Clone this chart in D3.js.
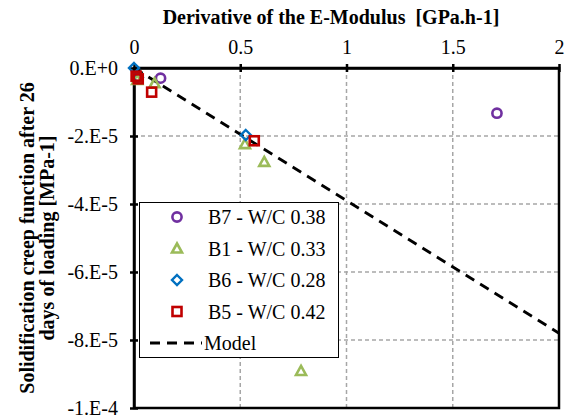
<!DOCTYPE html>
<html><head><meta charset="utf-8">
<script src="https://cdn.jsdelivr.net/npm/d3@7"></script>
<style>body{margin:0;background:#fff}svg{display:block}</style>
</head><body>
<script>
// Data
const xTicks = [0, 0.5, 1, 1.5, 2];
const xTickLabels = ["0", "0.5", "1", "1.5", "2"];
const yTicks = [0, -2e-5, -4e-5, -6e-5, -8e-5, -1e-4];
const yTickLabels = ["0.E+0", "-2.E-5", "-4.E-5", "-6.E-5", "-8.E-5", "-1.E-4"];
const seriesNames = ["B7 - W/C 0.38", "B1 - W/C 0.33", "B6 - W/C 0.28", "B5 - W/C 0.42"];
const b7 = [[0.125, -3.0e-6], [1.708, -13.3e-6]];
const b1 = [[0.015, -3.5e-6], [0.097, -4.5e-6], [0.522, -22.4e-6], [0.613, -27.6e-6], [0.786, -89.1e-6]];
const b6 = [[0, 0], [0.018, -2.8e-6], [0.526, -19.7e-6]];
const b5 = [[0.01, -2.4e-6], [0.02, -3.2e-6], [0.083, -7.1e-6], [0.566, -21.4e-6]];
const modelX = [0, 2];
const modelSlope = -3.9e-5;
const xTitle = "Derivative of the E-Modulus\u00a0\u00a0[GPa.h-1]";
const yTitle = ["Solidification creep function after 26", "days of loading [MPa-1]"];
const modelName = "Model";

const W = 569, H = 419;
const m = {left: 134, right: 559, top: 68, bottom: 408};
const font = "'Liberation Serif', 'Times New Roman', serif";
const svg = d3.select("body").append("svg").attr("width", W).attr("height", H)
  .style("font-family", font);

const x = d3.scaleLinear().domain([0, 2]).range([m.left, m.right]);
const y = d3.scaleLinear().domain([-1e-4, 0]).range([m.bottom, m.top]);

// grid
const grid = svg.append("g").attr("stroke", "#A6A6A6").attr("stroke-width", 1.5).attr("stroke-dasharray", "4,3");
grid.selectAll("line.v").data(xTicks.slice(1, -1)).enter().append("line")
  .attr("x1", d => x(d)).attr("x2", d => x(d)).attr("y1", m.top).attr("y2", m.bottom);
grid.selectAll("line.h").data(yTicks.slice(1, -1)).enter().append("line")
  .attr("y1", d => y(d)).attr("y2", d => y(d)).attr("x1", m.left).attr("x2", m.right);

// model line
svg.append("line")
  .attr("x1", x(modelX[0])).attr("y1", y(modelX[0] * modelSlope))
  .attr("x2", x(modelX[1])).attr("y2", y(modelX[1] * modelSlope))
  .attr("stroke", "#000").attr("stroke-width", 2.8).attr("stroke-dasharray", "10,7");

// frame
svg.append("rect").attr("x", m.left).attr("y", m.top).attr("width", m.right - m.left).attr("height", m.bottom - m.top)
  .attr("fill", "none").attr("stroke", "#000").attr("stroke-width", 2.5);

// axes
const xAxis = d3.axisTop(x).tickValues(xTicks).tickFormat((d, i) => xTickLabels[i]).tickSizeInner(4).tickSizeOuter(0).tickPadding(10);
const gx = svg.append("g").attr("transform", `translate(0,${m.top})`).call(xAxis);
gx.select(".domain").attr("stroke-width", 2.5);
gx.selectAll(".tick line").attr("stroke-width", 2.5).attr("y2", 4).attr("y1", -4);
gx.selectAll(".tick text").attr("font-size", 20).attr("font-family", font).attr("fill", "#000").attr("y", -14);

const yAxis = d3.axisLeft(y).tickValues(yTicks).tickFormat((d, i) => yTickLabels[i]).tickSizeInner(4).tickSizeOuter(0).tickPadding(14);
const gy = svg.append("g").attr("transform", `translate(${m.left},0)`).call(yAxis);
gy.select(".domain").attr("stroke-width", 2.5);
gy.selectAll(".tick line").attr("stroke-width", 2.5).attr("x1", 4).attr("x2", -4);
gy.selectAll(".tick text").attr("font-size", 20).attr("font-family", font).attr("fill", "#000").attr("x", -16);

// titles
svg.append("text").attr("x", 331).attr("y", 24).attr("text-anchor", "middle")
  .attr("font-size", 20).attr("font-weight", "bold").text(xTitle);
yTitle.forEach((t, i) => {
  svg.append("text").attr("transform", `translate(${34 + i * 20},238) rotate(-90)`)
    .attr("text-anchor", "middle").attr("font-size", 20).attr("font-weight", "bold").text(t);
});

// markers
const styles = [
  {color: "#7030A0", shape: "circle"},
  {color: "#9BBB59", shape: "triangle"},
  {color: "#0070C0", shape: "diamond"},
  {color: "#C00000", shape: "square"}
];
function drawMarker(g, shape, color, cx, cy) {
  if (shape === "circle") {
    g.append("circle").attr("cx", cx).attr("cy", cy).attr("r", 4.6)
      .attr("fill", "none").attr("stroke", color).attr("stroke-width", 2.6);
  } else if (shape === "triangle") {
    g.append("path").attr("d", `M${cx},${cy - 5}L${cx + 5},${cy + 4}L${cx - 5},${cy + 4}Z`)
      .attr("fill", "none").attr("stroke", color).attr("stroke-width", 2.6).attr("stroke-linejoin", "miter");
  } else if (shape === "diamond") {
    g.append("path").attr("d", `M${cx},${cy - 5}L${cx + 5},${cy}L${cx},${cy + 5}L${cx - 5},${cy}Z`)
      .attr("fill", "none").attr("stroke", color).attr("stroke-width", 2.4);
  } else {
    g.append("rect").attr("x", cx - 4.5).attr("y", cy - 4.5).attr("width", 9).attr("height", 9)
      .attr("fill", "none").attr("stroke", color).attr("stroke-width", 2.6);
  }
}
const allSeries = [b7, b1, b6, b5];
const mg = svg.append("g");
allSeries.forEach((s, i) => {
  s.forEach(p => drawMarker(mg, styles[i].shape, styles[i].color, x(p[0]), y(p[1])));
});

// legend
const lg = svg.append("g");
lg.append("rect").attr("x", 139.5).attr("y", 202.5).attr("width", 199).attr("height", 155)
  .attr("fill", "#fff").attr("stroke", "#000").attr("stroke-width", 1);
const rowY = [217, 248.5, 280, 311.5, 343];
seriesNames.forEach((n, i) => {
  drawMarker(lg, styles[i].shape, styles[i].color, 177, rowY[i]);
  lg.append("text").attr("x", 208).attr("y", rowY[i] + 7).attr("font-size", 20).text(n);
});
lg.append("line").attr("x1", 150).attr("x2", 202).attr("y1", rowY[4]).attr("y2", rowY[4])
  .attr("stroke", "#000").attr("stroke-width", 2.8).attr("stroke-dasharray", "10,7");
lg.append("text").attr("x", 204).attr("y", rowY[4] + 7).attr("font-size", 20).text(modelName);
</script>
</body></html>
